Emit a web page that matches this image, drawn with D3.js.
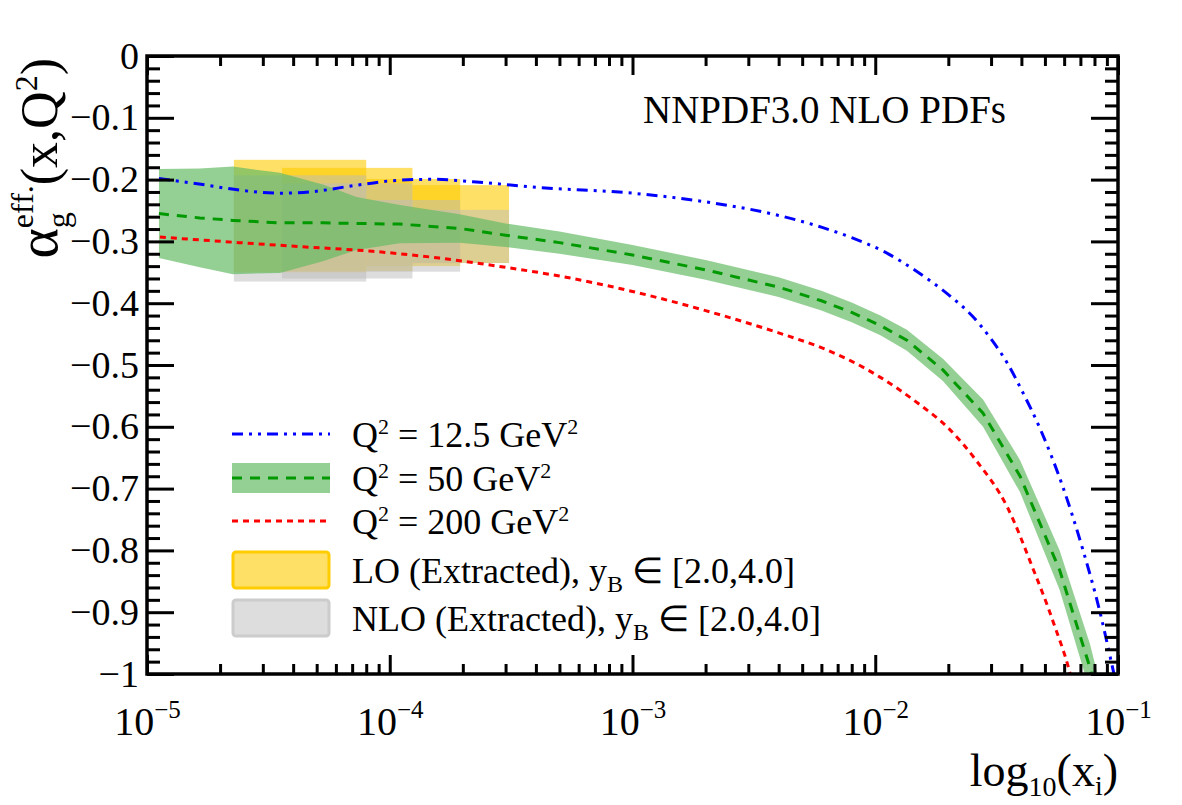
<!DOCTYPE html>
<html>
<head>
<meta charset="utf-8">
<script src="https://cdn.jsdelivr.net/npm/d3@7"></script>
<style>
  body { margin: 0; background: #fff; }
  svg text { font-family: "Liberation Serif", "Times New Roman", serif; fill: #000; }
</style>
</head>
<body>
<svg id="chart" width="1182" height="805"></svg>
<script>
// ---- data ----
// Q^2 = 12.5 GeV^2 (blue, dash-dot-dot)
const blueX = [1.12e-5, 1.76e-5, 2.4e-5, 3.5e-5, 4.8e-5, 7.3e-5, 1.03e-4, 1.5e-4, 2.2e-4, 4.0e-4,
               1.0e-3, 2.0e-3, 4.0e-3, 6.0e-3, 8.0e-3, 1.08e-2, 1.5e-2, 2.0e-2, 2.5e-2, 3.0e-2,
               3.5e-2, 4.0e-2, 4.8e-2, 5.9e-2, 7.18e-2, 8.43e-2, 9.44e-2, 1.0e-1];
const blueY = [-0.198, -0.209, -0.217, -0.222, -0.2195, -0.209, -0.2017, -0.1995, -0.2034, -0.2125,
               -0.222, -0.236, -0.258, -0.277, -0.294, -0.316, -0.350, -0.386, -0.420, -0.458,
               -0.497, -0.540, -0.605, -0.695, -0.800, -0.900, -0.985, -1.03];

// Q^2 = 50 GeV^2 (green dashed, with uncertainty band)
const greenX = [1.12e-5, 1.65e-5, 2.26e-5, 3.53e-5, 5.3e-5, 7.3e-5, 1.1e-4, 1.94e-4, 3.0e-4, 5.0e-4,
                1.0e-3, 2.0e-3, 4.0e-3, 6.0e-3, 8.0e-3, 1.05e-2, 1.35e-2, 1.9e-2, 2.78e-2, 3.95e-2,
                5.75e-2, 7.67e-2, 9.0e-2];
const greenY = [-0.255, -0.262, -0.266, -0.270, -0.270, -0.271, -0.272, -0.279, -0.290, -0.302,
                -0.322, -0.346, -0.374, -0.396, -0.415, -0.436, -0.460, -0.508, -0.578, -0.680,
                -0.832, -0.990, -1.10];
const greenErr = [0.072, 0.080, 0.087, 0.081, 0.062, 0.043, 0.031, 0.023, 0.019, 0.018,
                  0.016, 0.016, 0.016, 0.016, 0.016, 0.016, 0.017, 0.018, 0.022, 0.026,
                  0.032, 0.038, 0.040];

// Q^2 = 200 GeV^2 (red, dotted)
const redX = [1.13e-5, 2.4e-5, 4.5e-5, 8.5e-5, 1.6e-4, 3.0e-4, 5.0e-4, 1.0e-3, 2.0e-3, 4.0e-3,
              6.0e-3, 8.0e-3, 1.05e-2, 1.5e-2, 2.0e-2, 2.6e-2, 3.5e-2, 4.47e-2, 5.4e-2, 6.53e-2, 7.0e-2];
const redY = [-0.293, -0.302, -0.309, -0.316, -0.327, -0.342, -0.356, -0.381, -0.412, -0.448,
              -0.472, -0.494, -0.520, -0.562, -0.602, -0.654, -0.730, -0.830, -0.915, -1.02, -1.08];

// extracted bins, y_B in [2.0,4.0]
const binXmin = [2.28e-5, 3.6e-5, 8.0e-5, 1.24e-4];
const binXmax = [8.0e-5, 1.24e-4, 1.95e-4, 3.1e-4];
const loHigh  = [-0.168, -0.181, -0.199, -0.209];
const loLow   = [-0.350, -0.348, -0.340, -0.335];
const nloHigh = [-0.193, -0.206, -0.233, -0.249];
const nloLow  = [-0.365, -0.360, -0.349, -0.335];

// axes
const xMajor = [1e-5, 1e-4, 1e-3, 1e-2, 1e-1];
const xTickExp = ['\u22125', '\u22124', '\u22123', '\u22122', '\u22121'];
const yMajor = [0, -0.1, -0.2, -0.3, -0.4, -0.5, -0.6, -0.7, -0.8, -0.9, -1];
const yTickLabels = ['0', '\u22120.1', '\u22120.2', '\u22120.3', '\u22120.4', '\u22120.5',
                     '\u22120.6', '\u22120.7', '\u22120.8', '\u22120.9', '\u22121'];

const qValues = ['12.5', '50', '200'];
const binOrders = ['LO', 'NLO'];

// ---- layout ----
const L = 147, R = 1118, T = 56, B = 674;
const svg = d3.select('#chart');

const x = d3.scaleLog().domain([1e-5, 1e-1]).range([L, R]);
const y = d3.scaleLinear().domain([-1, 0]).range([B, T]);

const xMinor = [];
for (let e = -5; e < -1; e++) for (let k = 2; k <= 9; k++) xMinor.push(k * Math.pow(10, e));
const yMinor = d3.range(0, 51).map(i => -i * 0.02).filter((v, i) => i % 5 !== 0);

const defs = svg.append('defs');
defs.append('clipPath').attr('id', 'plot-clip')
  .append('rect').attr('x', L).attr('y', T).attr('width', R - L).attr('height', B - T);

const plot = svg.append('g').attr('clip-path', 'url(#plot-clip)');

// LO boxes (yellow), then NLO boxes (grey) on top
const bins = binXmin.map((v, i) => ({ x0: v, x1: binXmax[i], lo: loLow[i], hi: loHigh[i], nlo: nloLow[i], nhi: nloHigh[i] }));
plot.selectAll('.lo').data(bins).enter().append('rect')
  .attr('x', d => x(d.x0)).attr('width', d => x(d.x1) - x(d.x0))
  .attr('y', d => y(d.hi)).attr('height', d => y(d.lo) - y(d.hi))
  .attr('fill', '#ffcc00').attr('fill-opacity', 0.6);
plot.selectAll('.nlo').data(bins).enter().append('rect')
  .attr('x', d => x(d.x0)).attr('width', d => x(d.x1) - x(d.x0))
  .attr('y', d => y(d.nhi)).attr('height', d => y(d.nlo) - y(d.nhi))
  .attr('fill', '#bbbbbb').attr('fill-opacity', 0.5);

// green band
const gData = greenX.map((v, i) => ({ x: v, y: greenY[i], e: greenErr[i] }));
plot.append('path').datum(gData)
  .attr('d', d3.area().x(d => x(d.x)).y0(d => y(d.y - d.e)).y1(d => y(d.y + d.e)))
  .attr('fill', '#66bb66').attr('fill-opacity', 0.7);

const line = d3.line().x(d => x(d[0])).y(d => y(d[1]));
const smooth = d3.line().x(d => x(d[0])).y(d => y(d[1])).curve(d3.curveMonotoneX);

plot.append('path').datum(greenX.map((v, i) => [v, greenY[i]]))
  .attr('d', line).attr('fill', 'none')
  .attr('stroke', '#009900').attr('stroke-width', 3).attr('stroke-dasharray', '10 8');

plot.append('path').datum(redX.map((v, i) => [v, redY[i]]))
  .attr('d', smooth).attr('fill', 'none')
  .attr('stroke', '#ff0000').attr('stroke-width', 3).attr('stroke-dasharray', '6 5');

plot.append('path').datum(blueX.map((v, i) => [v, blueY[i]]))
  .attr('d', smooth).attr('fill', 'none')
  .attr('stroke', '#0000ff').attr('stroke-width', 3).attr('stroke-dasharray', '11 6 3 6 3 6');

// ---- ticks (inward, all four sides) ----
function ticks(axis, tr, vals, size) {
  const g = svg.append('g').attr('transform', tr)
    .call(axis.tickValues(vals).tickSize(-size).tickFormat(''));
  g.select('.domain').remove();
  g.selectAll('.tick line').attr('stroke', '#000').attr('stroke-width', 3);
}
ticks(d3.axisBottom(x), `translate(0,${B})`, xMajor, 19);
ticks(d3.axisBottom(x), `translate(0,${B})`, xMinor, 10);
ticks(d3.axisTop(x), `translate(0,${T})`, xMajor, 19);
ticks(d3.axisTop(x), `translate(0,${T})`, xMinor, 10);
ticks(d3.axisLeft(y), `translate(${L},0)`, yMajor, 27);
ticks(d3.axisLeft(y), `translate(${L},0)`, yMinor, 13);
ticks(d3.axisRight(y), `translate(${R},0)`, yMajor, 27);
ticks(d3.axisRight(y), `translate(${R},0)`, yMinor, 13);

// tick labels
const yLab = svg.append('g').attr('transform', `translate(${L},0)`)
  .call(d3.axisLeft(y).tickValues(yMajor).tickSize(0).tickPadding(8)
    .tickFormat((d, i) => yTickLabels[i]));
yLab.select('.domain').remove();
yLab.attr('font-size', 38).attr('font-family', null);

const xLab = svg.append('g').attr('transform', `translate(0,${B})`)
  .call(d3.axisBottom(x).tickValues(xMajor).tickSize(0).tickPadding(33).tickFormat(''));
xLab.select('.domain').remove();
xLab.attr('font-size', 40).attr('font-family', null);
xLab.selectAll('.tick text').each(function (d, i) {
  const t = d3.select(this);
  t.append('tspan').text('10');
  t.append('tspan').attr('font-size', 25).attr('dy', -17).text(xTickExp[i]);
});

// frame
svg.append('rect').attr('x', L).attr('y', T).attr('width', R - L).attr('height', B - T)
  .attr('fill', 'none').attr('stroke', '#000').attr('stroke-width', 3.5);

// ---- titles ----
const xt = svg.append('text').attr('x', R).attr('y', 786).attr('text-anchor', 'end').attr('font-size', 46);
xt.append('tspan').text('log');
xt.append('tspan').attr('font-size', 28).attr('dy', 10).text('10');
xt.append('tspan').attr('dy', -10).text('(x');
xt.append('tspan').attr('font-size', 28).attr('dy', 9).text('i');
xt.append('tspan').attr('dy', -9).text(')');

const yt = svg.append('text').attr('transform', `translate(57,${T + 2}) rotate(-90)`)
  .attr('text-anchor', 'end').attr('font-size', 52);
yt.append('tspan').attr('font-size', 58).text('\u03b1');
yt.append('tspan').attr('font-size', 32).attr('dy', 12).text('g');
yt.append('tspan').attr('font-size', 32).attr('dx', -16).attr('dy', -36).text('eff.');
yt.append('tspan').attr('dy', 24).text('(x,Q');
yt.append('tspan').attr('font-size', 32).attr('dy', -20).text('2');
yt.append('tspan').attr('dy', 20).text(')');

svg.append('text').attr('x', 643).attr('y', 123).attr('font-size', 39).text('NNPDF3.0 NLO PDFs');

// ---- legend ----
const lg = svg.append('g');
const rowY = [434, 478, 521, 570, 618];
const sx0 = 232, sx1 = 330, tx = 352;

lg.append('line').attr('x1', sx0).attr('x2', sx1).attr('y1', rowY[0]).attr('y2', rowY[0])
  .attr('stroke', '#0000ff').attr('stroke-width', 3).attr('stroke-dasharray', '11 6 3 6 3 6');
lg.append('rect').attr('x', sx0).attr('y', rowY[1] - 15).attr('width', sx1 - sx0).attr('height', 30)
  .attr('fill', '#66bb66').attr('fill-opacity', 0.7);
lg.append('line').attr('x1', sx0).attr('x2', sx1).attr('y1', rowY[1]).attr('y2', rowY[1])
  .attr('stroke', '#009900').attr('stroke-width', 3).attr('stroke-dasharray', '10 8');
lg.append('line').attr('x1', sx0).attr('x2', sx1).attr('y1', rowY[2]).attr('y2', rowY[2])
  .attr('stroke', '#ff0000').attr('stroke-width', 3).attr('stroke-dasharray', '6 5');
lg.append('rect').attr('x', sx0 + 1).attr('y', rowY[3] - 18).attr('width', sx1 - sx0 - 2).attr('height', 36)
  .attr('rx', 3).attr('fill', '#ffcc00').attr('fill-opacity', 0.6).attr('stroke', '#ffcc00').attr('stroke-width', 3);
lg.append('rect').attr('x', sx0 + 1).attr('y', rowY[4] - 18).attr('width', sx1 - sx0 - 2).attr('height', 36)
  .attr('rx', 3).attr('fill', '#bbbbbb').attr('fill-opacity', 0.5).attr('stroke', '#cccccc').attr('stroke-width', 3);

qValues.forEach((val, i) => {
  const t = lg.append('text').attr('x', tx).attr('y', rowY[i] + 13).attr('font-size', 36);
  t.append('tspan').text('Q');
  t.append('tspan').attr('font-size', 22).attr('dy', -13).text('2');
  t.append('tspan').attr('dy', 13).text(' = ' + val + ' GeV');
  t.append('tspan').attr('font-size', 22).attr('dy', -13).text('2');
});
binOrders.forEach((order, j) => {
  const t = lg.append('text').attr('x', tx).attr('y', rowY[3 + j] + 13).attr('font-size', 36);
  t.append('tspan').text(order + ' (Extracted), y');
  t.append('tspan').attr('font-size', 24).attr('dy', 9).text('B');
  t.append('tspan').attr('dy', -9).text(' \u2208 [2.0,4.0]');
});
</script>
</body>
</html>
